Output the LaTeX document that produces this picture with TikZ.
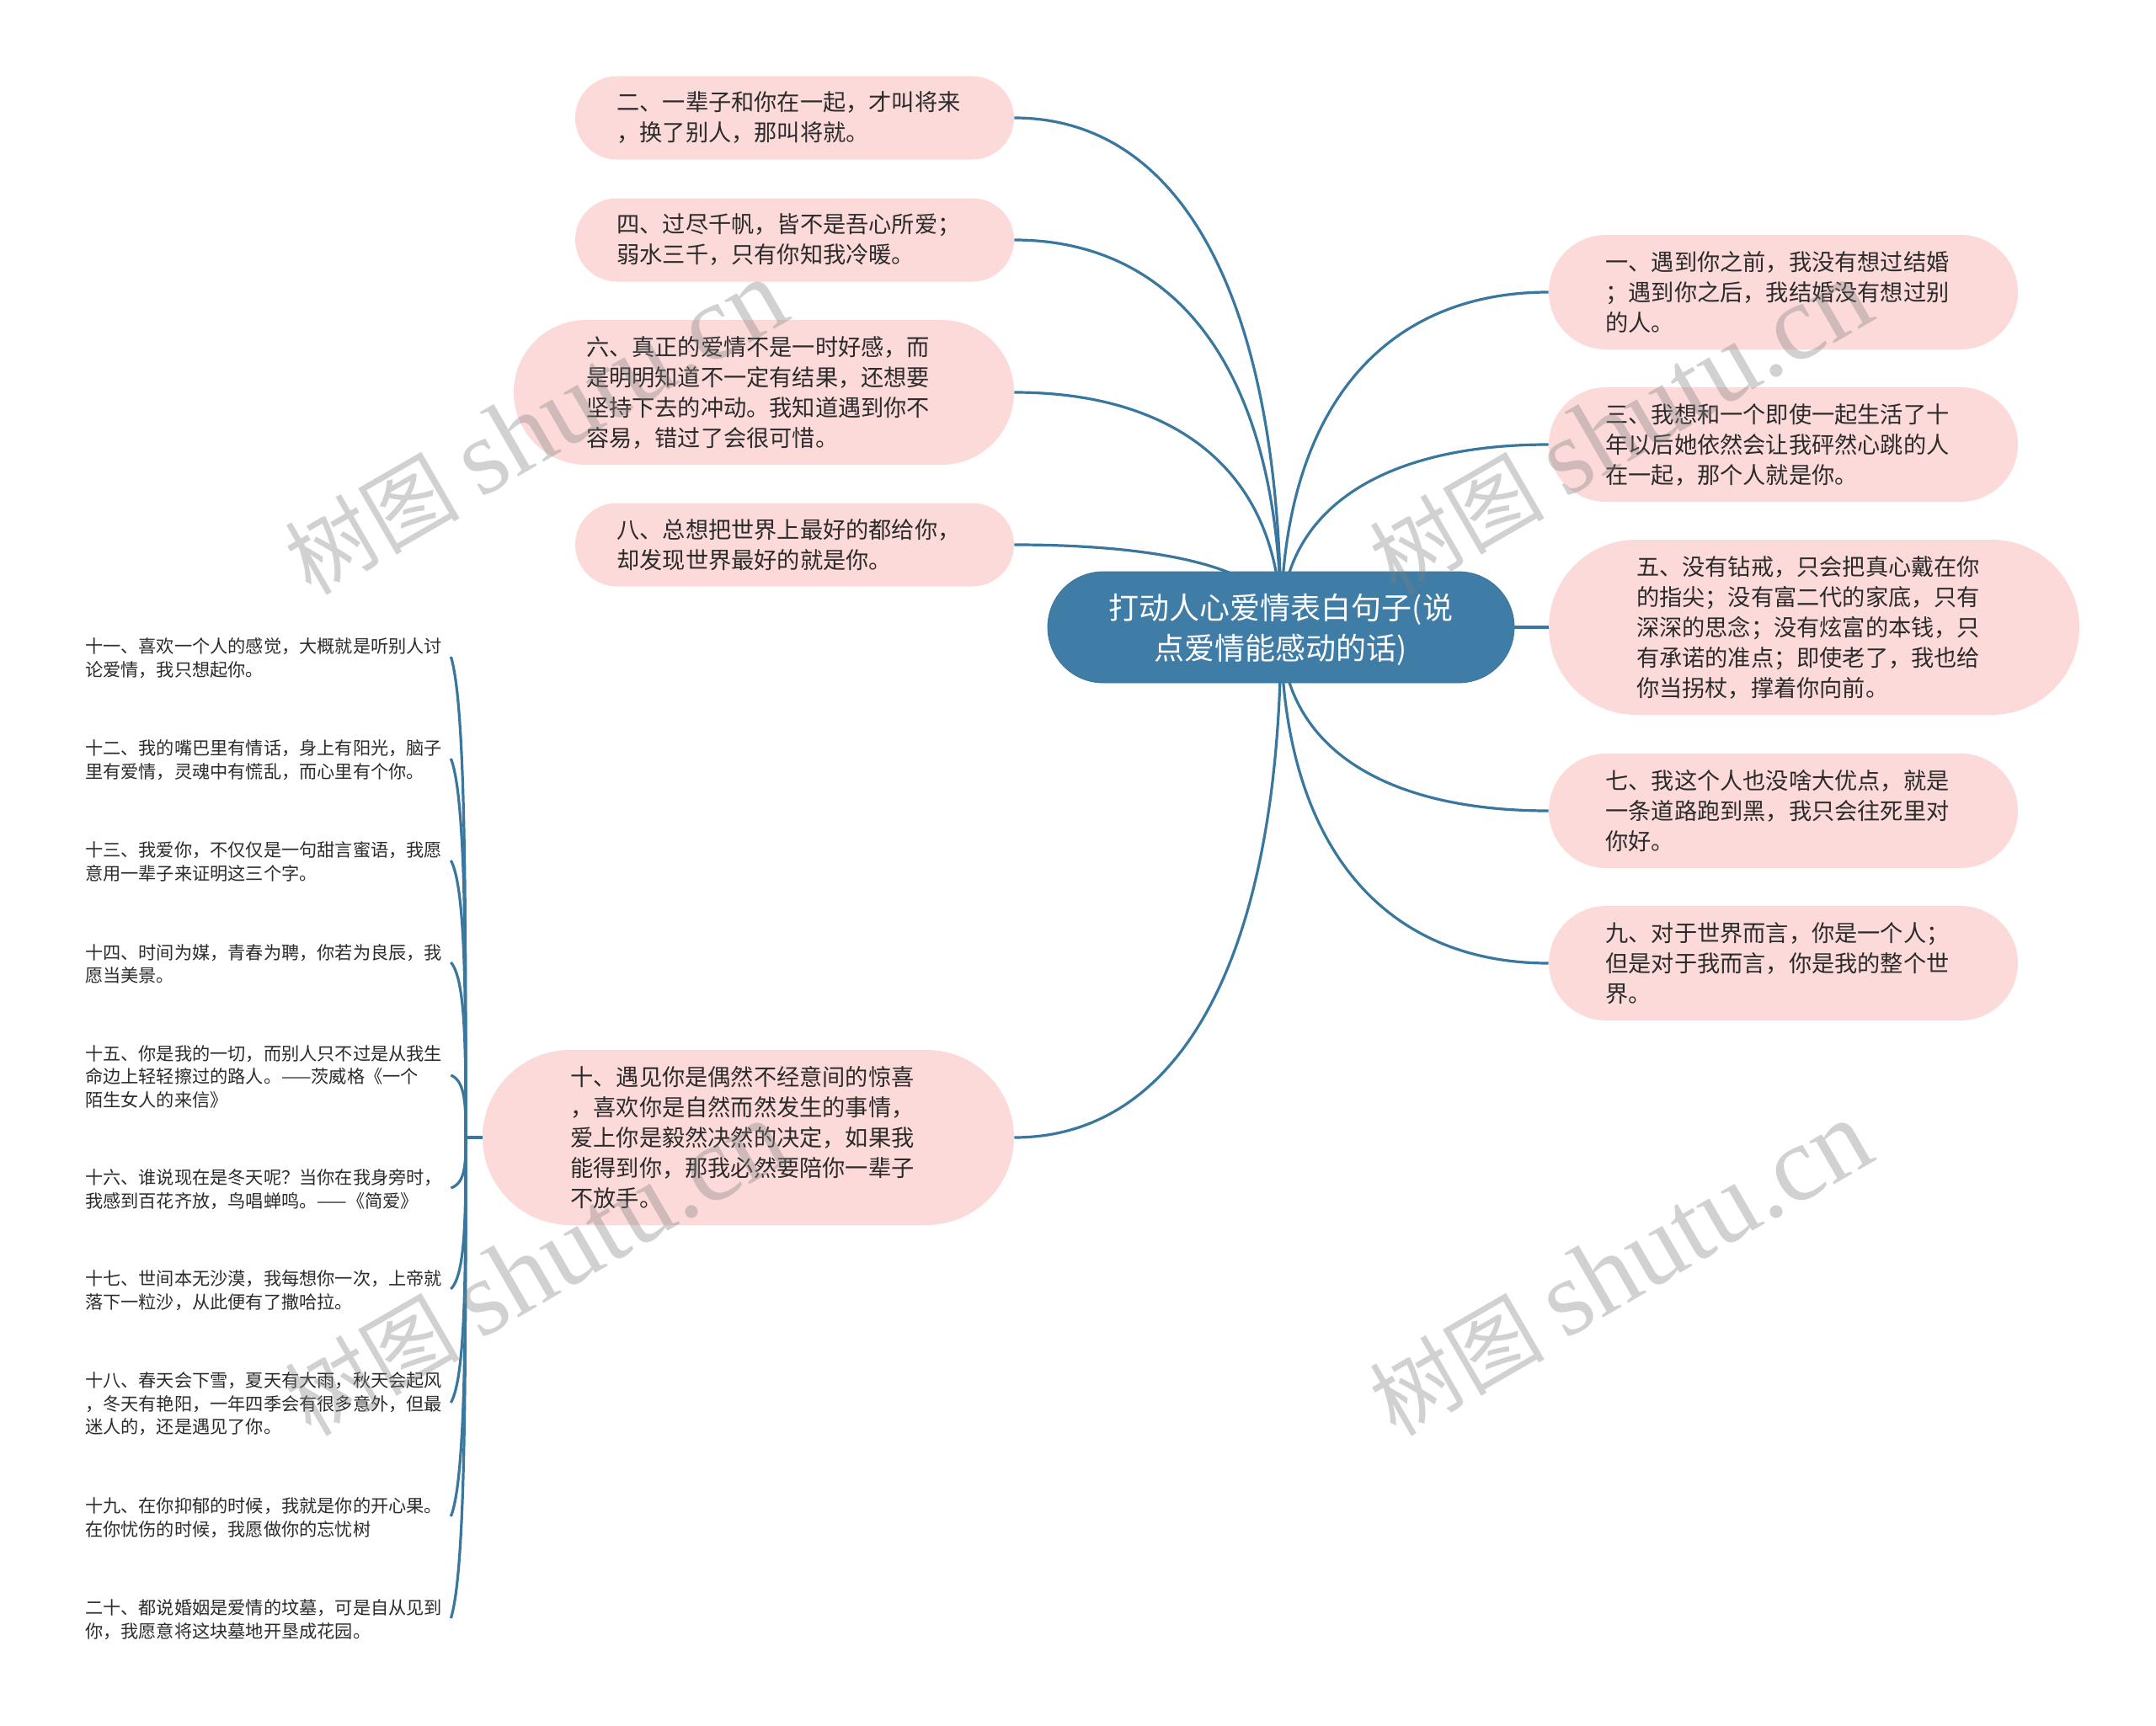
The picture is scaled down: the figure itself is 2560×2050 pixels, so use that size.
\documentclass[tikz,border=0pt]{standalone}
\usepackage{fontspec}
\usetikzlibrary{shapes.misc}
\usetikzlibrary{backgrounds}
\usetikzlibrary{calc}
\setmainfont{Noto Sans CJK SC}
\newfontfamily\markfont{Liberation Serif}

\definecolor{rootblue}{HTML}{3F7CA6}
\definecolor{linkblue}{HTML}{3A779E}
\definecolor{pillpink}{HTML}{FCDADA}
\definecolor{inkgrey}{HTML}{2B2B2B}

\tikzset{
  root/.style={rounded rectangle,fill=rootblue,draw=linkblue,text=white,minimum width=277pt,minimum height=66pt,
    text width=220pt,align=center,inner sep=0pt,font=\fontsize{18}{24}\selectfont,
    execute at end node={\par\vspace*{-3.3pt}}},
  pill/.style 2 args={rounded rectangle,fill=pillpink,text=inkgrey,minimum width=#1,minimum height=#2,text width=211pt,
    align=left,inner xsep=0pt,inner ysep=0pt,font=\fontsize{13.6}{18}\selectfont,
    execute at end node={\par}},
  leaf/.style={text=inkgrey,text width=211.5pt,align=left,inner xsep=5.5pt,inner ysep=0pt,
    font=\fontsize{10.6}{13.7}\selectfont,execute at end node={\par\vspace*{-1.6pt}}},
  link/.style={draw=linkblue,line width=1.6pt},
  stamp/.style={text=black!50,opacity=0.36,rotate=30,inner sep=0pt,font=\fontsize{52}{52}\selectfont}
}

\begin{document}
\begin{tikzpicture}[x=0.5pt,y=-0.5pt]
\useasboundingbox (0,0) rectangle (2560,2050);

\node[root] (root) at (1521,745) {打动人心爱情表白句子(说\\点爱情能感动的话)};

% left side
\node[pill={260.5pt}{49.5pt}] (two) at (943.5,140) {二、一辈子和你在一起，才叫将来\\，换了别人，那叫将就。};
\node[pill={260.5pt}{49.5pt}] (four) at (943.5,285) {四、过尽千帆，皆不是吾心所爱；\\弱水三千，只有你知我冷暖。};
\node[pill={297pt}{86pt}] (six) at (907,466) {六、真正的爱情不是一时好感，而\\是明明知道不一定有结果，还想要\\坚持下去的冲动。我知道遇到你不\\容易，错过了会很可惜。};
\node[pill={260.5pt}{49.5pt}] (eight) at (943.5,647) {八、总想把世界上最好的都给你，\\却发现世界最好的就是你。};
\node[pill={315.5pt}{104pt}] (ten) at (888.5,1351) {十、遇见你是偶然不经意间的惊喜\\，喜欢你是自然而然发生的事情，\\爱上你是毅然决然的决定，如果我\\能得到你，那我必然要陪你一辈子\\不放手。};

% right side
\node[pill={278.5pt}{68pt}] (one) at (2117.5,347) {一、遇到你之前，我没有想过结婚\\；遇到你之后，我结婚没有想过别\\的人。};
\node[pill={278.5pt}{68pt}] (three) at (2117.5,528) {三、我想和一个即使一起生活了十\\年以后她依然会让我砰然心跳的人\\在一起，那个人就是你。};
\node[pill={315pt}{104pt}] (five) at (2154,745) {五、没有钻戒，只会把真心戴在你\\的指尖；没有富二代的家底，只有\\深深的思念；没有炫富的本钱，只\\有承诺的准点；即使老了，我也给\\你当拐杖，撑着你向前。};
\node[pill={278.5pt}{68pt}] (seven) at (2117.5,963) {七、我这个人也没啥大优点，就是\\一条道路跑到黑，我只会往死里对\\你好。};
\node[pill={278.5pt}{68pt}] (nine) at (2117.5,1144) {九、对于世界而言，你是一个人；\\但是对于我而言，你是我的整个世\\界。};

% leaves of ten
\node[leaf] (l11) at (312.5,780) {十一、喜欢一个人的感觉，大概就是听别人讨\\论爱情，我只想起你。};
\node[leaf] (l12) at (312.5,901) {十二、我的嘴巴里有情话，身上有阳光，脑子\\里有爱情，灵魂中有慌乱，而心里有个你。};
\node[leaf] (l13) at (312.5,1022) {十三、我爱你，不仅仅是一句甜言蜜语，我愿\\意用一辈子来证明这三个字。};
\node[leaf] (l14) at (312.5,1143) {十四、时间为媒，青春为聘，你若为良辰，我\\愿当美景。};
\node[leaf] (l15) at (312.5,1277) {十五、你是我的一切，而别人只不过是从我生\\命边上轻轻擦过的路人。——茨威格《一个\\陌生女人的来信》};
\node[leaf] (l16) at (312.5,1411) {十六、谁说现在是冬天呢？当你在我身旁时，\\我感到百花齐放，鸟唱蝉鸣。——《简爱》};
\node[leaf] (l17) at (312.5,1531) {十七、世间本无沙漠，我每想你一次，上帝就\\落下一粒沙，从此便有了撒哈拉。};
\node[leaf] (l18) at (312.5,1666) {十八、春天会下雪，夏天有大雨，秋天会起风\\，冬天有艳阳，一年四季会有很多意外，但最\\迷人的，还是遇见了你。};
\node[leaf] (l19) at (312.5,1801) {十九、在你抑郁的时候，我就是你的开心果。\\在你忧伤的时候，我愿做你的忘忧树};
\node[leaf] (l20) at (312.5,1922) {二十、都说婚姻是爱情的坟墓，可是自从见到\\你，我愿意将这块墓地开垦成花园。};

\coordinate (hub) at (553,1351);

\begin{scope}[on background layer]
\draw[link] (two.east) .. controls +(196,0) and +(0,-395) .. (root.center);
\draw[link] (four.east) .. controls +(196,0) and +(0,-300) .. (root.center);
\draw[link] (six.east) .. controls +(196,0) and +(0,-181) .. (root.center);
\draw[link] (eight.east) .. controls +(196,0) and +(0,-64) .. (root.center);
\draw[link] (ten.east) .. controls +(196,0) and +(0,394) .. (root.center);

\draw[link] (one.west) .. controls +(-196,0) and +(0,-259) .. (root.center);
\draw[link] (three.west) .. controls +(-196,0) and +(0,-141) .. (root.center);
\draw[link] (five.west) -- (root.center);
\draw[link] (seven.west) .. controls +(-196,0) and +(0,142) .. (root.center);
\draw[link] (nine.west) .. controls +(-196,0) and +(0,259) .. (root.center);

\draw[link] (ten.west) -- (hub);
\foreach \leaf in {l11,l12,l13,l14,l15,l16,l17,l18,l19,l20}
  \draw[link] let \p1=(\leaf.east),\p2=(hub) in
    (\p1) .. controls (\x2,{\y1+0.1*(\y2-\y1)}) and (\x2,{\y1+0.5*(\y2-\y1)}) .. (hub);
\end{scope}

% watermark
\foreach \mx/\my [count=\i] in {636/508,1924/508,636/1507,1924/1507}
  \node[stamp] (mark\i) at (\mx,\my) {树图 {\markfont\fontsize{64}{64}\selectfont shutu.cn}};

\end{tikzpicture}
\end{document}
